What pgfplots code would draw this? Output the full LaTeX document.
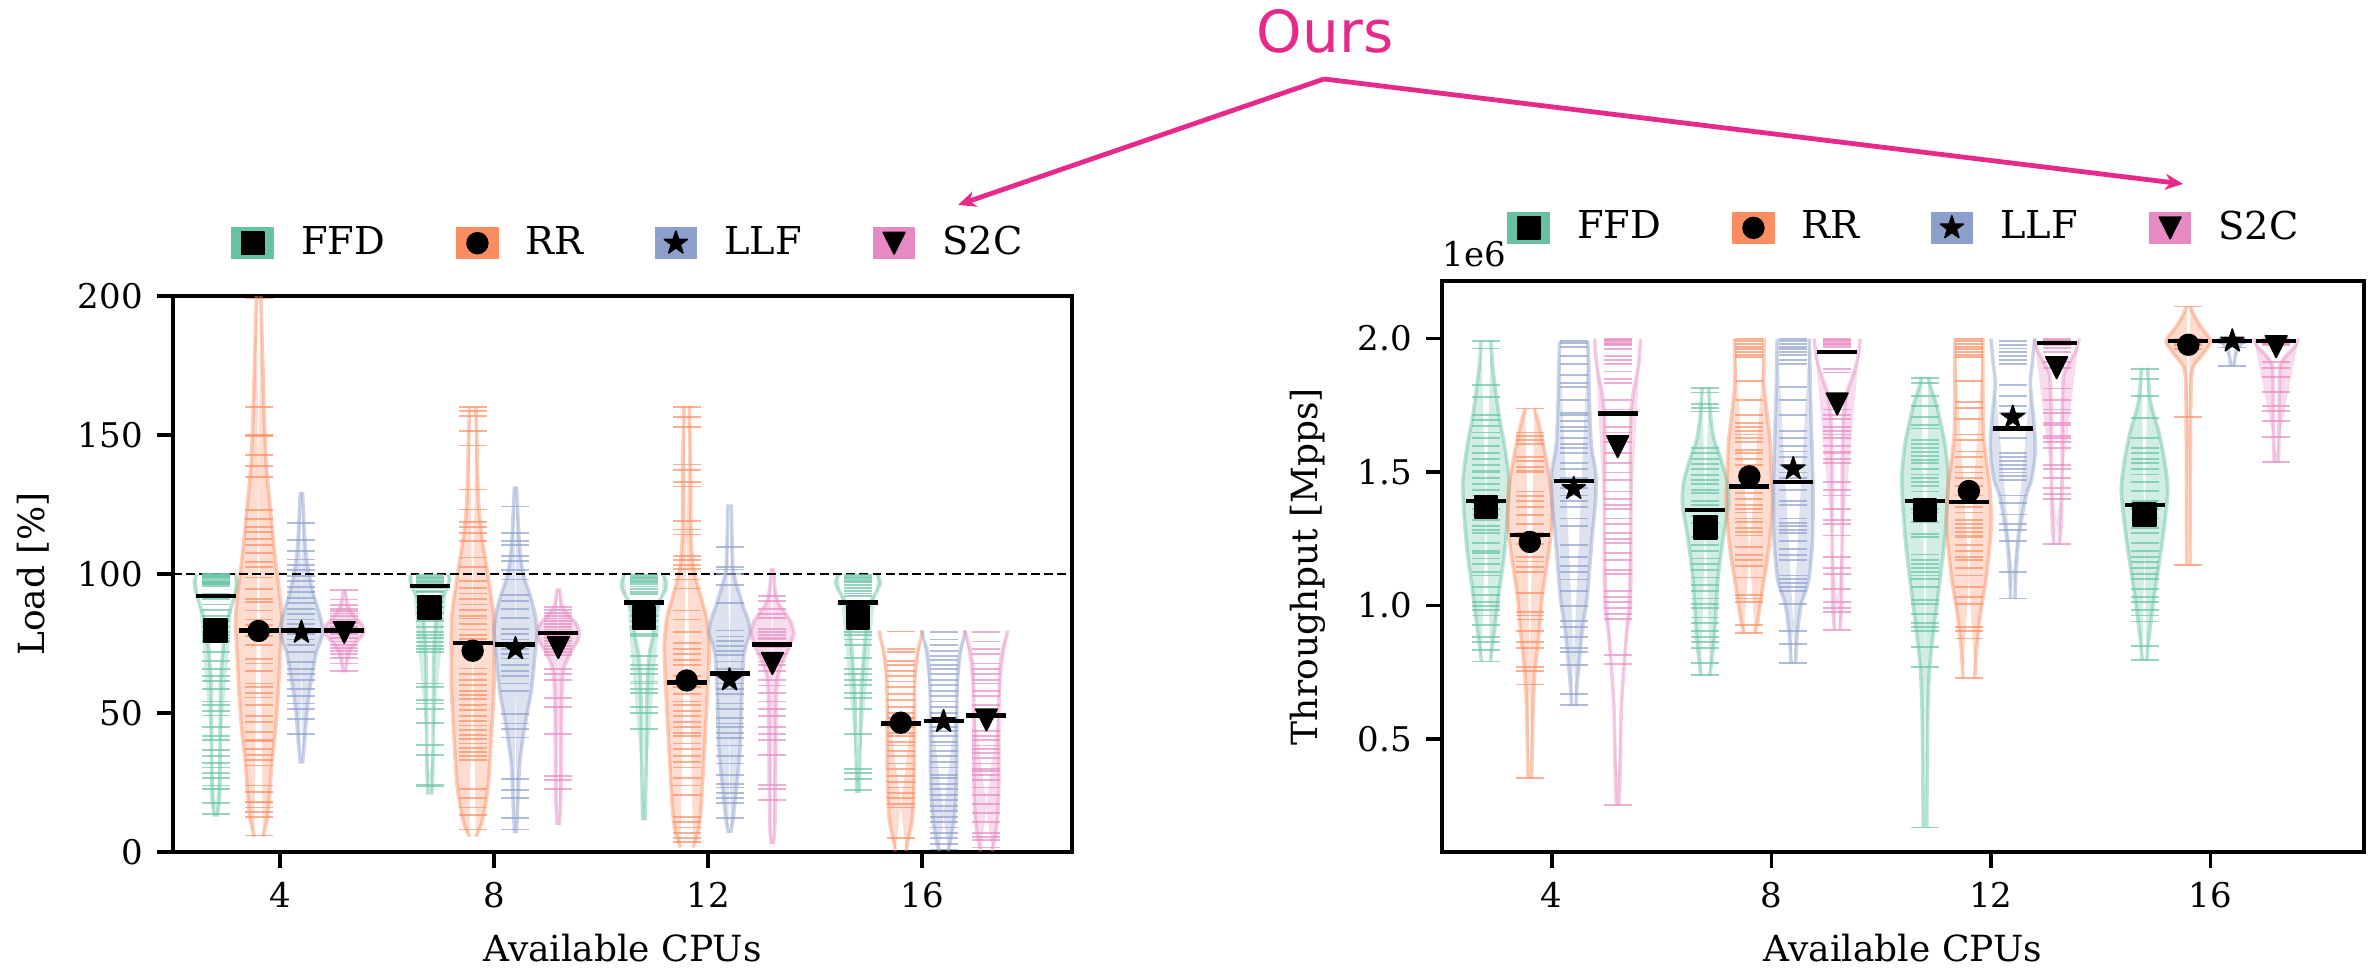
\documentclass[border=0pt]{standalone}
\usepackage{fontspec}
\setmainfont{DejaVu Serif}
\newfontfamily\oursfont{DejaVu Sans}
\usepackage{pgfplots}
\pgfplotsset{compat=1.18}
\usepackage{pgfplotstable}
\usepgfplotslibrary{fillbetween}
\usetikzlibrary{arrows.meta}

\definecolor{cF}{HTML}{66C2A5}
\definecolor{cR}{HTML}{FC8D62}
\definecolor{cL}{HTML}{8DA0CB}
\definecolor{cS}{HTML}{E78AC3}
\definecolor{cOurs}{HTML}{E7298A}

\pgfdeclareplotmark{fstar}{%
 \pgfpathmoveto{\pgfpointpolar{90}{\pgfplotmarksize}}%
 \pgfpathlineto{\pgfpointpolar{126}{0.382*\pgfplotmarksize}}%
 \pgfpathlineto{\pgfpointpolar{162}{\pgfplotmarksize}}%
 \pgfpathlineto{\pgfpointpolar{198}{0.382*\pgfplotmarksize}}%
 \pgfpathlineto{\pgfpointpolar{234}{\pgfplotmarksize}}%
 \pgfpathlineto{\pgfpointpolar{270}{0.382*\pgfplotmarksize}}%
 \pgfpathlineto{\pgfpointpolar{306}{\pgfplotmarksize}}%
 \pgfpathlineto{\pgfpointpolar{342}{0.382*\pgfplotmarksize}}%
 \pgfpathlineto{\pgfpointpolar{18}{\pgfplotmarksize}}%
 \pgfpathlineto{\pgfpointpolar{54}{0.382*\pgfplotmarksize}}%
 \pgfpathclose\pgfusepathqfillstroke}
\pgfdeclareplotmark{tdown}{%
 \pgfpathmoveto{\pgfqpoint{0pt}{-\pgfplotmarksize}}%
 \pgfpathlineto{\pgfqpoint{-\pgfplotmarksize}{\pgfplotmarksize}}%
 \pgfpathlineto{\pgfqpoint{\pgfplotmarksize}{\pgfplotmarksize}}%
 \pgfpathclose\pgfusepathqfillstroke}

% ---------------- Load panel: violin outlines (y, half width) ----------------
\pgfplotstableread[row sep=\\]{y w\\ 12.7 0.005\\ 20 0.018\\ 40 0.02\\ 60 0.022\\ 70 0.03\\ 78 0.04\\ 84 0.055\\ 89 0.075\\ 94 0.095\\ 97.5 0.1\\ 100 0.09\\}\oLFa
\pgfplotstableread[row sep=\\]{y w\\ 5.5 0.02\\ 12 0.04\\ 20 0.05\\ 32 0.062\\ 45 0.08\\ 58 0.092\\ 70 0.1\\ 84 0.108\\ 95 0.095\\ 104 0.08\\ 115 0.065\\ 124 0.054\\ 140 0.035\\ 160 0.025\\ 180 0.018\\ 200 0.01\\}\oLRa
\pgfplotstableread[row sep=\\]{y w\\ 31.8 0.005\\ 40 0.015\\ 50 0.025\\ 58 0.038\\ 66 0.055\\ 72 0.07\\ 76 0.09\\ 80 0.1\\ 84 0.09\\ 88 0.075\\ 93 0.055\\ 100 0.035\\ 108 0.02\\ 118 0.012\\ 129.5 0.005\\}\oLLa
\pgfplotstableread[row sep=\\]{y w\\ 64.6 0.005\\ 68 0.012\\ 72 0.025\\ 75 0.05\\ 78 0.085\\ 80 0.093\\ 82 0.08\\ 85 0.045\\ 88 0.02\\ 91 0.01\\ 94.1 0.005\\}\oLSa
\pgfplotstableread[row sep=\\]{y w\\ 20.6 0.008\\ 30 0.014\\ 50 0.016\\ 70 0.018\\ 80 0.025\\ 86 0.035\\ 91 0.055\\ 95 0.08\\ 98 0.093\\ 100 0.085\\}\oLFb
\pgfplotstableread[row sep=\\]{y w\\ 5.5 0.015\\ 10 0.04\\ 15 0.055\\ 25 0.074\\ 45 0.09\\ 60 0.1\\ 75 0.1\\ 85 0.098\\ 95 0.08\\ 105 0.06\\ 115 0.04\\ 125 0.028\\ 140 0.022\\ 160 0.015\\}\oLRb
\pgfplotstableread[row sep=\\]{y w\\ 6.8 0.005\\ 20 0.012\\ 32 0.02\\ 45 0.043\\ 58 0.074\\ 70 0.09\\ 79 0.1\\ 85 0.093\\ 92 0.07\\ 98 0.043\\ 105 0.025\\ 115 0.015\\ 131.5 0.005\\}\oLLb
\pgfplotstableread[row sep=\\]{y w\\ 9.7 0.005\\ 20 0.012\\ 50 0.015\\ 62 0.02\\ 67 0.03\\ 72 0.06\\ 76 0.09\\ 79 0.097\\ 82 0.085\\ 85 0.05\\ 88 0.02\\ 91 0.012\\ 94.8 0.005\\}\oLSb
\pgfplotstableread[row sep=\\]{y w\\ 11.4 0.006\\ 30 0.01\\ 50 0.012\\ 65 0.018\\ 72 0.027\\ 78 0.043\\ 85 0.05\\ 90 0.07\\ 94 0.1\\ 97 0.104\\ 100 0.09\\}\oLFc
\pgfplotstableread[row sep=\\]{y w\\ 1.6 0.03\\ 8 0.055\\ 15 0.066\\ 30 0.078\\ 50 0.092\\ 62 0.1\\ 74 0.105\\ 84 0.093\\ 92 0.065\\ 98 0.043\\ 104 0.028\\ 115 0.02\\ 140 0.018\\ 160.4 0.012\\}\oLRc
\pgfplotstableread[row sep=\\]{y w\\ 6.8 0.005\\ 12 0.017\\ 25 0.035\\ 38 0.05\\ 58 0.058\\ 70 0.066\\ 75 0.08\\ 79 0.097\\ 84 0.085\\ 88 0.065\\ 92 0.05\\ 97 0.03\\ 103 0.015\\ 125 0.008\\}\oLLc
\pgfplotstableread[row sep=\\]{y w\\ 2.9 0.005\\ 10 0.012\\ 30 0.015\\ 55 0.018\\ 63 0.025\\ 68 0.045\\ 72 0.07\\ 76 0.09\\ 79 0.1\\ 83 0.085\\ 87 0.05\\ 90 0.025\\ 95 0.012\\ 102 0.005\\}\oLSc
\pgfplotstableread[row sep=\\]{y w\\ 21.3 0.006\\ 40 0.01\\ 55 0.014\\ 65 0.021\\ 78 0.035\\ 85 0.045\\ 90 0.058\\ 94 0.09\\ 97 0.105\\ 100 0.09\\}\oLFd
\pgfplotstableread[row sep=\\]{y w\\ 0.3 0.025\\ 3 0.031\\ 12 0.054\\ 25 0.062\\ 40 0.064\\ 55 0.064\\ 65 0.066\\ 72 0.078\\ 77 0.095\\ 79.7 0.1\\}\oLRd
\pgfplotstableread[row sep=\\]{y w\\ 0.3 0.02\\ 3 0.03\\ 12 0.05\\ 25 0.06\\ 40 0.062\\ 55 0.062\\ 65 0.066\\ 72 0.075\\ 77 0.095\\ 79.7 0.1\\}\oLLd
\pgfplotstableread[row sep=\\]{y w\\ 0.3 0.025\\ 3 0.035\\ 12 0.052\\ 25 0.058\\ 45 0.058\\ 60 0.06\\ 68 0.065\\ 74 0.08\\ 78 0.095\\ 79.7 0.1\\}\oLSd

% ---------------- Load panel: individual runs ----------------
\pgfplotstableread[row sep=\\]{v\\ 100\\ 100\\ 99.8\\ 99.5\\ 99.2\\ 99\\ 98.7\\ 98.4\\ 98\\ 97.6\\ 97.2\\ 96.8\\ 96.4\\ 96\\ 95.5\\ 93\\ 91\\ 89\\ 87\\ 85\\ 83\\ 81\\ 79\\ 78\\ 77\\ 76\\ 75.5\\ 72\\ 68.8\\ 65.9\\ 63.3\\ 61.5\\ 58.7\\ 54.1\\ 52.8\\ 50.8\\ 49.1\\ 44.9\\ 41.6\\ 40.3\\ 36.7\\ 34.4\\ 32\\ 30.4\\ 28.5\\ 26.5\\ 23.9\\ 22.8\\ 17.6\\ 13.8\\}\rLFa
\pgfplotstableread[row sep=\\]{v\\ 199.1\\ 160\\ 150.1\\ 149.5\\ 142.7\\ 138.7\\ 134.8\\ 123\\ 119.7\\ 117\\ 115\\ 112.7\\ 110.5\\ 107.6\\ 104.2\\ 102.6\\ 98.7\\ 94.5\\ 91.1\\ 89.8\\ 86.9\\ 83.6\\ 81.6\\ 77.7\\ 74.4\\ 69.4\\ 67.8\\ 65.2\\ 60.6\\ 59.3\\ 57.3\\ 55.6\\ 53\\ 48.8\\ 46.9\\ 43.3\\ 40.3\\ 40\\ 37\\ 35\\ 33\\ 31.1\\ 23.9\\ 21.5\\ 18\\ 17.8\\ 16\\ 14.3\\ 12.7\\ 5.9\\}\rLRa
\pgfplotstableread[row sep=\\]{v\\ 118.4\\ 112.2\\ 108.3\\ 105.2\\ 103.3\\ 101.3\\ 99.3\\ 97.4\\ 95.4\\ 93.4\\ 91.5\\ 89.5\\ 87.5\\ 85.6\\ 83.6\\ 81.9\\ 80.3\\ 78.3\\ 76.4\\ 74.4\\ 71.8\\ 68.2\\ 65.9\\ 63.9\\ 61.9\\ 58.7\\ 56\\ 53.4\\ 51.4\\ 47.8\\ 42.5\\}\rLLa
\pgfplotstableread[row sep=\\]{v\\ 94.1\\ 90.8\\ 88.8\\ 87.5\\ 86.6\\ 85.8\\ 84.9\\ 83.6\\ 82.3\\ 81\\ 79.7\\ 78.3\\ 77\\ 75.7\\ 74.4\\ 73.5\\ 72.4\\ 71.1\\ 69.8\\ 67.8\\ 65\\}\rLSa
\pgfplotstableread[row sep=\\]{v\\ 99.5\\ 99\\ 98.5\\ 98\\ 97.5\\ 97\\ 96.5\\ 96\\ 95\\ 94\\ 93.5\\ 92\\ 90\\ 88\\ 86\\ 84\\ 83\\ 81\\ 79\\ 78\\ 77\\ 75.5\\ 74\\ 73\\ 72\\ 60.6\\ 59.3\\ 54.7\\ 53.4\\ 51.4\\ 46.5\\ 38.6\\ 35\\ 24.3\\ 23.6\\}\rLFb
\pgfplotstableread[row sep=\\]{v\\ 160.1\\ 158.7\\ 156.7\\ 151.4\\ 146.2\\ 130.4\\ 123.2\\ 118.8\\ 116.8\\ 114.7\\ 111.8\\ 105.9\\ 102.6\\ 97.4\\ 95\\ 93\\ 91\\ 89\\ 87\\ 85\\ 84\\ 82\\ 80\\ 78\\ 76.5\\ 66\\ 64\\ 62\\ 60\\ 58\\ 56.5\\ 55\\ 53\\ 51\\ 49\\ 47\\ 45.5\\ 44\\ 42\\ 40.5\\ 39\\ 37.5\\ 36\\ 34.5\\ 33\\ 22.8\\ 19.3\\ 16\\ 13.4\\ 8.1\\}\rLRb
\pgfplotstableread[row sep=\\]{v\\ 124.3\\ 114.8\\ 111.8\\ 110.5\\ 106.6\\ 104.6\\ 101.3\\ 98\\ 92.4\\ 90.2\\ 87.5\\ 84.3\\ 80.3\\ 78.3\\ 76.4\\ 73.1\\ 71.1\\ 69.6\\ 67.2\\ 65.2\\ 63.3\\ 60.6\\ 58\\ 49.5\\ 46.2\\ 44.2\\ 41.2\\ 26.2\\ 22.3\\ 19.3\\ 12.1\\ 8.1\\}\rLLb
\pgfplotstableread[row sep=\\]{v\\ 88\\ 87\\ 86\\ 85\\ 84\\ 83\\ 82\\ 81\\ 80\\ 79\\ 78\\ 77\\ 76\\ 75\\ 74\\ 73\\ 72\\ 71\\ 65.9\\ 63.9\\ 61.9\\ 55.4\\ 52.1\\ 42.5\\ 27.4\\ 25.9\\ 22.6\\}\rLSb
\pgfplotstableread[row sep=\\]{v\\ 99.5\\ 99\\ 98.5\\ 98\\ 97.5\\ 97\\ 96.5\\ 95.5\\ 94.5\\ 93.5\\ 92.8\\ 85\\ 83\\ 81\\ 80\\ 78.5\\ 77.7\\ 70.5\\ 67.2\\ 65.9\\ 63.9\\ 61.3\\ 60.6\\ 58.7\\ 57.3\\ 52.1\\ 50.1\\ 44.2\\}\rLFc
\pgfplotstableread[row sep=\\]{v\\ 160.1\\ 156.4\\ 152.8\\ 139.4\\ 137.4\\ 133.2\\ 131.5\\ 119\\ 116\\ 114.2\\ 106.6\\ 105\\ 103.3\\ 101.9\\ 98\\ 94.8\\ 86.9\\ 83.6\\ 79\\ 75.1\\ 73.1\\ 71.1\\ 69.1\\ 67.2\\ 63.3\\ 59.3\\ 56.7\\ 54.1\\ 52.8\\ 50.8\\ 48.8\\ 46.9\\ 44.9\\ 42.9\\ 41.6\\ 39\\ 37\\ 34.4\\ 32.4\\ 30.4\\ 26.5\\ 23.9\\ 20.6\\ 12.7\\ 10.8\\ 8.8\\ 6.8\\ 4.9\\ 3.5\\}\rLRc
\pgfplotstableread[row sep=\\]{v\\ 109.8\\ 102.6\\ 101.6\\ 100\\ 96.1\\ 89.5\\ 79.7\\ 77.5\\ 76\\ 74\\ 72.4\\ 71\\ 68.5\\ 65.9\\ 63.3\\ 60.6\\ 58.7\\ 56.7\\ 53.4\\ 51.4\\ 48.2\\ 46.2\\ 44.9\\ 42.9\\ 40.9\\ 38.3\\ 34.4\\ 31.8\\ 27.8\\ 24.5\\ 23.2\\ 21.3\\ 19.3\\ 17.6\\ 12.1\\}\rLLc
\pgfplotstableread[row sep=\\]{v\\ 92.1\\ 90.2\\ 87.5\\ 85.6\\ 84.3\\ 80.3\\ 79\\ 78\\ 77\\ 76.4\\ 73.8\\ 71.1\\ 68.5\\ 67.2\\ 65.2\\ 61.9\\ 59.9\\ 57.3\\ 54.1\\ 51.4\\ 48.8\\ 44.9\\ 42.3\\ 40.3\\ 35\\ 24.1\\ 22.6\\ 18.6\\}\rLSc
\pgfplotstableread[row sep=\\]{v\\ 99.5\\ 99\\ 98.5\\ 98\\ 97.5\\ 97\\ 96\\ 95\\ 94\\ 93\\ 92.1\\ 79\\ 78\\ 76.4\\ 74.4\\ 69.8\\ 65.9\\ 63.9\\ 61.9\\ 60\\ 57.3\\ 55.4\\ 51.4\\ 42.3\\ 29.8\\ 28.5\\ 26.2\\ 22.3\\}\rLFd
\pgfplotstableread[row sep=\\]{v\\ 79.3\\ 73.1\\ 71.8\\ 68.8\\ 67.2\\ 65.2\\ 63.3\\ 61.3\\ 59.3\\ 56.7\\ 54.7\\ 52.1\\ 50.1\\ 48.2\\ 44.9\\ 42.9\\ 41.6\\ 39.6\\ 38.3\\ 36.4\\ 34.4\\ 31.8\\ 29.8\\ 27.2\\ 25.2\\ 23.2\\ 21.3\\ 19.3\\ 17.3\\ 16\\ 4.9\\}\rLRd
\pgfplotstableread[row sep=\\]{v\\ 79\\ 76.4\\ 74.4\\ 72.4\\ 70.5\\ 69.2\\ 67.2\\ 65.9\\ 63.9\\ 61.9\\ 60\\ 58\\ 56\\ 54.1\\ 52.1\\ 50.1\\ 48.2\\ 44.9\\ 43.6\\ 41.6\\ 39.6\\ 38.3\\ 36.4\\ 34.4\\ 32.4\\ 30.4\\ 27.8\\ 26.5\\ 24.5\\ 22.6\\ 20.6\\ 18.6\\ 16.6\\ 14.7\\ 12.7\\ 10.8\\ 8.8\\ 6.8\\ 4.9\\ 2.9\\ 0.9\\}\rLLd
\pgfplotstableread[row sep=\\]{v\\ 79\\ 75.7\\ 73.1\\ 71.1\\ 67.8\\ 65.9\\ 63.9\\ 61.9\\ 60.6\\ 58\\ 56\\ 52.8\\ 49.5\\ 43.6\\ 41.6\\ 40.3\\ 38.3\\ 37\\ 35.7\\ 33.7\\ 31.8\\ 29.8\\ 29.1\\ 27.8\\ 25.9\\ 23.2\\ 20.6\\ 17.3\\ 14\\ 10.8\\ 6.8\\ 5.5\\ 4.2\\ 1.6\\}\rLSd

\pgfplotstableread{
g mF mR mL mS dF dR dL dS
0 79.7 79.5 79 79 92.1 79.7 79.7 79.7
1 87.8 72.4 73.1 73.5 95.7 75.1 74.7 78.7
2 84.3 61.7 61.9 67.8 89.8 60.9 64.2 74.7
3 84.3 46.5 46.9 47.5 89.8 46.2 47.2 49.1
}\sL

% ---------------- Throughput panel (x 1e6) ----------------
\pgfplotstableread[row sep=\\]{y w\\ 0.79 0.02\\ 0.85 0.03\\ 0.95 0.045\\ 1.05 0.06\\ 1.2 0.085\\ 1.35 0.1\\ 1.47 0.105\\ 1.6 0.085\\ 1.7 0.062\\ 1.8 0.045\\ 1.9 0.03\\ 1.99 0.022\\}\oTFa
\pgfplotstableread[row sep=\\]{y w\\ 0.354 0.008\\ 0.5 0.012\\ 0.65 0.016\\ 0.75 0.023\\ 0.9 0.042\\ 1.04 0.057\\ 1.18 0.083\\ 1.3 0.1\\ 1.4 0.1\\ 1.5 0.085\\ 1.61 0.06\\ 1.7 0.035\\ 1.738 0.02\\}\oTRa
\pgfplotstableread[row sep=\\]{y w\\ 0.623 0.01\\ 0.7 0.015\\ 0.754 0.021\\ 0.9 0.038\\ 1.04 0.062\\ 1.25 0.083\\ 1.4 0.1\\ 1.5 0.1\\ 1.6 0.08\\ 1.75 0.072\\ 1.9 0.068\\ 1.99 0.064\\}\oTLa
\pgfplotstableread[row sep=\\]{y w\\ 0.251 0.006\\ 0.4 0.012\\ 0.6 0.016\\ 0.75 0.027\\ 0.9 0.042\\ 1.0 0.058\\ 1.2 0.06\\ 1.4 0.06\\ 1.6 0.058\\ 1.72 0.06\\ 1.8 0.072\\ 1.9 0.095\\ 2.0 0.105\\}\oTSa
\pgfplotstableread[row sep=\\]{y w\\ 0.737 0.02\\ 0.8 0.03\\ 0.9 0.042\\ 1.1 0.057\\ 1.25 0.08\\ 1.38 0.105\\ 1.46 0.1\\ 1.55 0.07\\ 1.62 0.04\\ 1.7 0.025\\ 1.816 0.015\\}\oTFb
\pgfplotstableread[row sep=\\]{y w\\ 0.895 0.025\\ 0.95 0.04\\ 1.04 0.056\\ 1.18 0.083\\ 1.3 0.1\\ 1.4 0.106\\ 1.5 0.1\\ 1.61 0.095\\ 1.72 0.08\\ 1.83 0.066\\ 1.92 0.066\\ 2.0 0.068\\}\oTRb
\pgfplotstableread[row sep=\\]{y w\\ 0.783 0.01\\ 0.9 0.019\\ 1.0 0.035\\ 1.04 0.05\\ 1.1 0.072\\ 1.25 0.088\\ 1.45 0.09\\ 1.6 0.085\\ 1.8 0.078\\ 1.95 0.075\\ 2.0 0.072\\}\oTLb
\pgfplotstableread[row sep=\\]{y w\\ 0.909 0.012\\ 1.0 0.02\\ 1.3 0.023\\ 1.5 0.023\\ 1.68 0.027\\ 1.75 0.035\\ 1.8 0.045\\ 1.87 0.075\\ 1.93 0.095\\ 2.0 0.105\\}\oTSb
\pgfplotstableread[row sep=\\]{y w\\ 0.168 0.008\\ 0.4 0.01\\ 0.6 0.013\\ 0.754 0.02\\ 0.9 0.038\\ 1.04 0.06\\ 1.25 0.09\\ 1.47 0.106\\ 1.61 0.09\\ 1.75 0.053\\ 1.82 0.025\\ 1.856 0.015\\}\oTFc
\pgfplotstableread[row sep=\\]{y w\\ 0.729 0.027\\ 0.83 0.034\\ 0.97 0.053\\ 1.11 0.08\\ 1.25 0.098\\ 1.33 0.102\\ 1.45 0.095\\ 1.54 0.08\\ 1.65 0.066\\ 1.8 0.064\\ 2.0 0.064\\}\oTRc
\pgfplotstableread[row sep=\\]{y w\\ 1.026 0.01\\ 1.11 0.014\\ 1.25 0.027\\ 1.4 0.057\\ 1.47 0.085\\ 1.55 0.1\\ 1.62 0.102\\ 1.7 0.095\\ 1.83 0.08\\ 1.9 0.088\\ 2.0 0.1\\}\oTLc
\pgfplotstableread[row sep=\\]{y w\\ 1.229 0.012\\ 1.3 0.02\\ 1.5 0.025\\ 1.7 0.025\\ 1.82 0.028\\ 1.87 0.034\\ 1.92 0.065\\ 1.96 0.09\\ 2.0 0.102\\}\oTSc
\pgfplotstableread[row sep=\\]{y w\\ 0.794 0.01\\ 0.9 0.023\\ 1.04 0.045\\ 1.25 0.083\\ 1.43 0.106\\ 1.55 0.09\\ 1.655 0.064\\ 1.72 0.04\\ 1.78 0.024\\ 1.891 0.014\\}\oTFd
\pgfplotstableread[row sep=\\]{y w\\ 1.151 0.008\\ 1.4 0.009\\ 1.7 0.01\\ 1.85 0.013\\ 1.9 0.025\\ 1.94 0.064\\ 1.99 0.102\\ 2.04 0.06\\ 2.08 0.03\\ 2.12 0.008\\}\oTRd
\pgfplotstableread[row sep=\\]{y w\\ 1.896 0.008\\ 1.93 0.012\\ 1.96 0.02\\ 1.98 0.04\\ 2.0 0.06\\}\oTLd
\pgfplotstableread[row sep=\\]{y w\\ 1.534 0.008\\ 1.6 0.012\\ 1.8 0.014\\ 1.9 0.018\\ 1.94 0.05\\ 1.97 0.085\\ 2.0 0.102\\}\oTSd

\pgfplotstableread[row sep=\\]{v\\ 1.99\\ 1.963\\ 1.827\\ 1.781\\ 1.715\\ 1.695\\ 1.673\\ 1.648\\ 1.627\\ 1.598\\ 1.572\\ 1.548\\ 1.527\\ 1.505\\ 1.498\\ 1.477\\ 1.455\\ 1.434\\ 1.412\\ 1.384\\ 1.362\\ 1.341\\ 1.319\\ 1.298\\ 1.284\\ 1.27\\ 1.234\\ 1.205\\ 1.198\\ 1.176\\ 1.155\\ 1.126\\ 1.112\\ 1.069\\ 1.04\\ 1.012\\ 0.998\\ 0.984\\ 0.962\\ 0.926\\ 0.883\\ 0.862\\ 0.833\\ 0.79\\}\rTFa
\pgfplotstableread[row sep=\\]{v\\ 1.738\\ 1.648\\ 1.635\\ 1.62\\ 1.605\\ 1.555\\ 1.54\\ 1.52\\ 1.505\\ 1.498\\ 1.427\\ 1.41\\ 1.39\\ 1.37\\ 1.34\\ 1.305\\ 1.27\\ 1.255\\ 1.23\\ 1.183\\ 1.165\\ 1.145\\ 1.125\\ 1.048\\ 0.976\\ 0.962\\ 0.947\\ 0.905\\ 0.862\\ 0.84\\ 0.769\\ 0.754\\ 0.704\\ 0.354\\}\rTRa
\pgfplotstableread[row sep=\\]{v\\ 1.99\\ 1.985\\ 1.97\\ 1.934\\ 1.906\\ 1.863\\ 1.834\\ 1.82\\ 1.77\\ 1.72\\ 1.713\\ 1.691\\ 1.67\\ 1.655\\ 1.627\\ 1.605\\ 1.591\\ 1.57\\ 1.534\\ 1.512\\ 1.477\\ 1.441\\ 1.412\\ 1.391\\ 1.369\\ 1.326\\ 1.298\\ 1.226\\ 1.183\\ 1.148\\ 1.126\\ 1.097\\ 1.055\\ 0.998\\ 0.941\\ 0.92\\ 0.883\\ 0.84\\ 0.826\\ 0.776\\ 0.668\\ 0.626\\}\rTLa
\pgfplotstableread[row sep=\\]{v\\ 2.0\\ 1.995\\ 1.99\\ 1.985\\ 1.98\\ 1.975\\ 1.96\\ 1.934\\ 1.92\\ 1.906\\ 1.877\\ 1.848\\ 1.834\\ 1.77\\ 1.734\\ 1.67\\ 1.648\\ 1.612\\ 1.57\\ 1.534\\ 1.498\\ 1.469\\ 1.427\\ 1.398\\ 1.377\\ 1.362\\ 1.326\\ 1.305\\ 1.27\\ 1.248\\ 1.234\\ 1.198\\ 1.169\\ 1.133\\ 1.119\\ 1.055\\ 1.033\\ 1.012\\ 0.99\\ 0.969\\ 0.948\\ 0.815\\ 0.78\\ 0.251\\}\rTSa
\pgfplotstableread[row sep=\\]{v\\ 1.816\\ 1.798\\ 1.755\\ 1.741\\ 1.727\\ 1.591\\ 1.57\\ 1.55\\ 1.53\\ 1.51\\ 1.49\\ 1.47\\ 1.456\\ 1.434\\ 1.42\\ 1.391\\ 1.377\\ 1.334\\ 1.31\\ 1.255\\ 1.226\\ 1.205\\ 1.176\\ 1.155\\ 1.133\\ 1.105\\ 1.076\\ 1.055\\ 1.026\\ 1.005\\ 0.99\\ 0.955\\ 0.933\\ 0.905\\ 0.883\\ 0.862\\ 0.84\\ 0.783\\ 0.74\\}\rTFb
\pgfplotstableread[row sep=\\]{v\\ 2.0\\ 1.99\\ 1.98\\ 1.97\\ 1.96\\ 1.95\\ 1.94\\ 1.93\\ 1.841\\ 1.77\\ 1.713\\ 1.684\\ 1.67\\ 1.655\\ 1.641\\ 1.627\\ 1.612\\ 1.584\\ 1.57\\ 1.548\\ 1.527\\ 1.42\\ 1.398\\ 1.377\\ 1.362\\ 1.348\\ 1.326\\ 1.312\\ 1.291\\ 1.276\\ 1.262\\ 1.219\\ 1.19\\ 1.169\\ 1.148\\ 1.105\\ 1.04\\ 1.026\\ 1.012\\ 0.926\\ 0.897\\}\rTRb
\pgfplotstableread[row sep=\\]{v\\ 2.0\\ 1.99\\ 1.98\\ 1.97\\ 1.96\\ 1.95\\ 1.94\\ 1.92\\ 1.906\\ 1.82\\ 1.77\\ 1.713\\ 1.655\\ 1.627\\ 1.598\\ 1.577\\ 1.555\\ 1.527\\ 1.498\\ 1.477\\ 1.434\\ 1.391\\ 1.377\\ 1.326\\ 1.31\\ 1.298\\ 1.284\\ 1.27\\ 1.24\\ 1.212\\ 1.19\\ 1.169\\ 1.112\\ 1.098\\ 1.084\\ 1.069\\ 1.055\\ 1.005\\ 0.905\\ 0.855\\ 0.783\\}\rTLb
\pgfplotstableread[row sep=\\]{v\\ 2.0\\ 1.995\\ 1.99\\ 1.985\\ 1.98\\ 1.975\\ 1.97\\ 1.887\\ 1.873\\ 1.734\\ 1.713\\ 1.698\\ 1.67\\ 1.655\\ 1.641\\ 1.627\\ 1.598\\ 1.577\\ 1.57\\ 1.548\\ 1.534\\ 1.462\\ 1.434\\ 1.412\\ 1.362\\ 1.319\\ 1.305\\ 1.262\\ 1.183\\ 1.141\\ 1.119\\ 1.062\\ 1.012\\ 0.99\\ 0.976\\ 0.909\\}\rTSb
\pgfplotstableread[row sep=\\]{v\\ 1.853\\ 1.834\\ 1.784\\ 1.748\\ 1.705\\ 1.677\\ 1.663\\ 1.62\\ 1.605\\ 1.59\\ 1.575\\ 1.56\\ 1.545\\ 1.534\\ 1.512\\ 1.491\\ 1.477\\ 1.462\\ 1.448\\ 1.427\\ 1.362\\ 1.348\\ 1.312\\ 1.269\\ 1.255\\ 1.191\\ 1.169\\ 1.155\\ 1.14\\ 1.126\\ 1.112\\ 1.098\\ 1.069\\ 1.019\\ 1.005\\ 0.969\\ 0.933\\ 0.919\\ 0.905\\ 0.843\\ 0.769\\ 0.168\\}\rTFc
\pgfplotstableread[row sep=\\]{v\\ 2.0\\ 1.99\\ 1.98\\ 1.97\\ 1.96\\ 1.95\\ 1.94\\ 1.93\\ 1.841\\ 1.763\\ 1.741\\ 1.698\\ 1.641\\ 1.62\\ 1.577\\ 1.555\\ 1.52\\ 1.498\\ 1.477\\ 1.448\\ 1.412\\ 1.369\\ 1.348\\ 1.319\\ 1.305\\ 1.29\\ 1.276\\ 1.262\\ 1.255\\ 1.226\\ 1.205\\ 1.183\\ 1.169\\ 1.141\\ 1.112\\ 1.069\\ 1.033\\ 1.005\\ 0.919\\ 0.905\\ 0.876\\ 0.729\\}\rTRc
\pgfplotstableread[row sep=\\]{v\\ 1.99\\ 1.977\\ 1.963\\ 1.949\\ 1.934\\ 1.92\\ 1.906\\ 1.827\\ 1.784\\ 1.748\\ 1.72\\ 1.627\\ 1.57\\ 1.555\\ 1.54\\ 1.527\\ 1.512\\ 1.498\\ 1.484\\ 1.47\\ 1.412\\ 1.384\\ 1.341\\ 1.305\\ 1.284\\ 1.241\\ 1.126\\ 1.026\\}\rTLc
\pgfplotstableread[row sep=\\]{v\\ 2.0\\ 1.995\\ 1.99\\ 1.985\\ 1.975\\ 1.965\\ 1.95\\ 1.913\\ 1.891\\ 1.813\\ 1.77\\ 1.734\\ 1.72\\ 1.684\\ 1.677\\ 1.634\\ 1.627\\ 1.612\\ 1.591\\ 1.527\\ 1.512\\ 1.477\\ 1.441\\ 1.419\\ 1.398\\ 1.229\\}\rTSc
\pgfplotstableread[row sep=\\]{v\\ 1.887\\ 1.848\\ 1.784\\ 1.701\\ 1.627\\ 1.591\\ 1.57\\ 1.548\\ 1.534\\ 1.512\\ 1.491\\ 1.462\\ 1.429\\ 1.391\\ 1.362\\ 1.326\\ 1.291\\ 1.27\\ 1.234\\ 1.205\\ 1.183\\ 1.162\\ 1.141\\ 1.119\\ 1.098\\ 1.062\\ 1.033\\ 1.012\\ 0.983\\ 0.962\\ 0.94\\ 0.847\\ 0.797\\}\rTFd
\pgfplotstableread[row sep=\\]{v\\ 2.12\\ 2.0\\ 1.99\\ 1.98\\ 1.975\\ 1.96\\ 1.705\\ 1.151\\}\rTRd
\pgfplotstableread[row sep=\\]{v\\ 2.0\\ 1.995\\ 1.99\\ 1.985\\ 1.967\\ 1.896\\}\rTLd
\pgfplotstableread[row sep=\\]{v\\ 2.0\\ 1.995\\ 1.99\\ 1.985\\ 1.98\\ 1.975\\ 1.913\\ 1.891\\ 1.856\\ 1.801\\ 1.748\\ 1.73\\ 1.691\\ 1.63\\ 1.537\\}\rTSd

\pgfplotstableread{
g mF mR mL mS dF dR dL dS
0 1.369 1.238 1.438 1.595 1.391 1.265 1.467 1.72
1 1.291 1.484 1.512 1.755 1.358 1.445 1.462 1.949
2 1.358 1.429 1.705 1.891 1.391 1.387 1.663 1.984
3 1.341 1.977 1.991 1.97 1.377 1.99 1.99 1.99
}\sT

% #1 outline, #2 centre, #3 colour, #4 runs, #5 id
\newcommand\violin[5]{%
 \addplot[draw=#3, draw opacity=0.45, line width=0.9pt, smooth, tension=0.4, name path=R#5, forget plot] table[x expr={#2+\thisrow{w}}, y=y]{#1};
 \addplot[draw=#3, draw opacity=0.45, line width=0.9pt, smooth, tension=0.4, name path=L#5, forget plot] table[x expr={#2-\thisrow{w}}, y=y]{#1};
 \addplot[fill=#3, fill opacity=0.3, draw=none, forget plot] fill between[of=R#5 and L#5];
 \addplot[only marks, mark=-, mark size=3.5pt, mark options={draw=#3, line width=0.45pt, opacity=0.7}, forget plot] table[x expr={#2}, y=v]{#4};
}
\newcommand\medmean[1]{%
 \addplot[only marks, mark=-, mark size=5pt, mark options={black, line width=1.1pt}, forget plot] table[x expr=\thisrow{g}-0.3, y=dF]{#1};
 \addplot[only marks, mark=-, mark size=5pt, mark options={black, line width=1.1pt}, forget plot] table[x expr=\thisrow{g}-0.1, y=dR]{#1};
 \addplot[only marks, mark=-, mark size=5pt, mark options={black, line width=1.1pt}, forget plot] table[x expr=\thisrow{g}+0.1, y=dL]{#1};
 \addplot[only marks, mark=-, mark size=5pt, mark options={black, line width=1.1pt}, forget plot] table[x expr=\thisrow{g}+0.3, y=dS]{#1};
 \addplot[only marks, mark=square*, mark size=2.85pt, mark options={black, line join=round, line width=0.5pt}, forget plot] table[x expr=\thisrow{g}-0.3, y=mF]{#1};
 \addplot[only marks, mark=*, mark size=2.6pt, mark options={black}, forget plot] table[x expr=\thisrow{g}-0.1, y=mR]{#1};
 \addplot[only marks, mark=fstar, mark size=3pt, mark options={black, line join=round, line width=0.4pt}, forget plot] table[x expr=\thisrow{g}+0.1, y=mL]{#1};
 \addplot[only marks, mark=tdown, mark size=2.7pt, mark options={black, line join=round, line width=0.4pt}, forget plot] table[x expr=\thisrow{g}+0.3, y=mS]{#1};
}

\pgfplotsset{
 leg/.style n args={3}{legend image code/.code={%
   \fill[#1] (0pt,-3.85pt) rectangle (10.25pt,3.85pt);
   \begin{pgfscope}\pgftransformshift{\pgfqpoint{5.125pt}{0pt}}%
   \pgfsetfillcolor{black}\pgfsetstrokecolor{black}\pgfsetlinewidth{0.4pt}\pgfsetroundjoin
   \pgfsetplotmarksize{#3}\pgfuseplotmark{#2}\end{pgfscope}}},
 myaxis/.style={
   scale only axis, anchor=south west,
   xmin=-0.5, xmax=3.7, xtick={0,1,2,3}, xticklabels={4,8,12,16},
   xtick pos=bottom, ytick pos=left, tick align=outside, major tick length=4pt,
   axis line style={line width=0.9pt},
   major tick style={black, line width=0.9pt},
   tick label style={font=\fontsize{8.5}{10}\selectfont},
   label style={font=\fontsize{9}{11}\selectfont},
   /pgf/number format/assume math mode=true,
   xlabel={Available CPUs},
   legend columns=4,
   legend style={draw=none, fill=none, anchor=center, font=\fontsize{9.6}{11}\selectfont,
     nodes={inner sep=0pt},
     /tikz/every odd column/.style={column sep=6.75pt},
     /tikz/every even column/.style={column sep=17.75pt}},
   legend cell align=left,
 }
}

\begin{document}
\begin{tikzpicture}
% ================= Load =================
\begin{axis}[myaxis, at={(43.25pt,29.25pt)}, width=224.75pt, height=139pt,
  ymin=0, ymax=200, ytick={0,50,100,150,200},
  ylabel={Load [\%]},
  ylabel style={at={(axis description cs:-0.1557,0.5)}, anchor=center},
  xlabel style={at={(axis description cs:0.5,-0.172)}, anchor=center},
  legend style={at={(0.505,1.095)}}]
\addlegendimage{leg={cF}{square*}{2.85pt}}\addlegendentry{FFD}
\addlegendimage{leg={cR}{*}{2.6pt}}\addlegendentry{RR}
\addlegendimage{leg={cL}{fstar}{3pt}}\addlegendentry{LLF}
\addlegendimage{leg={cS}{tdown}{2.7pt}}\addlegendentry{S2C}

\violin{\oLFa}{-0.3}{cF}{\rLFa}{a1}
\violin{\oLRa}{-0.1}{cR}{\rLRa}{a2}
\violin{\oLLa}{0.1}{cL}{\rLLa}{a3}
\violin{\oLSa}{0.3}{cS}{\rLSa}{a4}
\violin{\oLFb}{0.7}{cF}{\rLFb}{b1}
\violin{\oLRb}{0.9}{cR}{\rLRb}{b2}
\violin{\oLLb}{1.1}{cL}{\rLLb}{b3}
\violin{\oLSb}{1.3}{cS}{\rLSb}{b4}
\violin{\oLFc}{1.7}{cF}{\rLFc}{c1}
\violin{\oLRc}{1.9}{cR}{\rLRc}{c2}
\violin{\oLLc}{2.1}{cL}{\rLLc}{c3}
\violin{\oLSc}{2.3}{cS}{\rLSc}{c4}
\violin{\oLFd}{2.7}{cF}{\rLFd}{d1}
\violin{\oLRd}{2.9}{cR}{\rLRd}{d2}
\violin{\oLLd}{3.1}{cL}{\rLLd}{d3}
\violin{\oLSd}{3.3}{cS}{\rLSd}{d4}

\addplot[black, line width=0.6pt, dash pattern=on 2.2pt off 1.1pt, forget plot] coordinates {(-0.5,100) (3.7,100)};
\medmean{\sL}
\end{axis}

% ================= Throughput =================
\begin{axis}[myaxis, name=tp, at={(360.5pt,29.25pt)}, width=230.5pt, height=142.75pt,
  ymin=0.076, ymax=2.216, ytick={0.5,1,1.5,2},
  yticklabel style={/pgf/number format/.cd, fixed, fixed zerofill, precision=1},
  ylabel={Throughput [Mpps]},
  ylabel style={at={(axis description cs:-0.1453,0.5)}, anchor=center},
  xlabel style={at={(axis description cs:0.5,-0.168)}, anchor=center},
  legend style={at={(0.5,1.093)}}]
\addlegendimage{leg={cF}{square*}{2.85pt}}\addlegendentry{FFD}
\addlegendimage{leg={cR}{*}{2.6pt}}\addlegendentry{RR}
\addlegendimage{leg={cL}{fstar}{3pt}}\addlegendentry{LLF}
\addlegendimage{leg={cS}{tdown}{2.7pt}}\addlegendentry{S2C}

\violin{\oTFa}{-0.3}{cF}{\rTFa}{ta1}
\violin{\oTRa}{-0.1}{cR}{\rTRa}{ta2}
\violin{\oTLa}{0.1}{cL}{\rTLa}{ta3}
\violin{\oTSa}{0.3}{cS}{\rTSa}{ta4}
\violin{\oTFb}{0.7}{cF}{\rTFb}{tb1}
\violin{\oTRb}{0.9}{cR}{\rTRb}{tb2}
\violin{\oTLb}{1.1}{cL}{\rTLb}{tb3}
\violin{\oTSb}{1.3}{cS}{\rTSb}{tb4}
\violin{\oTFc}{1.7}{cF}{\rTFc}{tc1}
\violin{\oTRc}{1.9}{cR}{\rTRc}{tc2}
\violin{\oTLc}{2.1}{cL}{\rTLc}{tc3}
\violin{\oTSc}{2.3}{cS}{\rTSc}{tc4}
\violin{\oTFd}{2.7}{cF}{\rTFd}{td1}
\violin{\oTRd}{2.9}{cR}{\rTRd}{td2}
\violin{\oTLd}{3.1}{cL}{\rTLd}{td3}
\violin{\oTSd}{3.3}{cS}{\rTSd}{td4}

\medmean{\sT}
\end{axis}
\node[anchor=base west, inner sep=0pt, font=\fontsize{8.5}{10}\selectfont] at ([yshift=3.5pt]tp.north west) {1e6};

% ================= annotation =================
\node[font=\oursfont\fontsize{14.5}{17}\selectfont, text=cOurs, inner sep=0pt] at (331.25pt,234.5pt) {Ours};
\draw[cOurs, line width=1.2pt, -{Stealth[length=4.5pt,width=4pt]}] (331pt,222.5pt) -- (239.5pt,191pt);
\draw[cOurs, line width=1.2pt, -{Stealth[length=4.5pt,width=4pt]}] (331pt,222.5pt) -- (545.75pt,196.25pt);
\pgfresetboundingbox
\path[use as bounding box] (0,0) rectangle (593pt,242.25pt);
\end{tikzpicture}
\end{document}
